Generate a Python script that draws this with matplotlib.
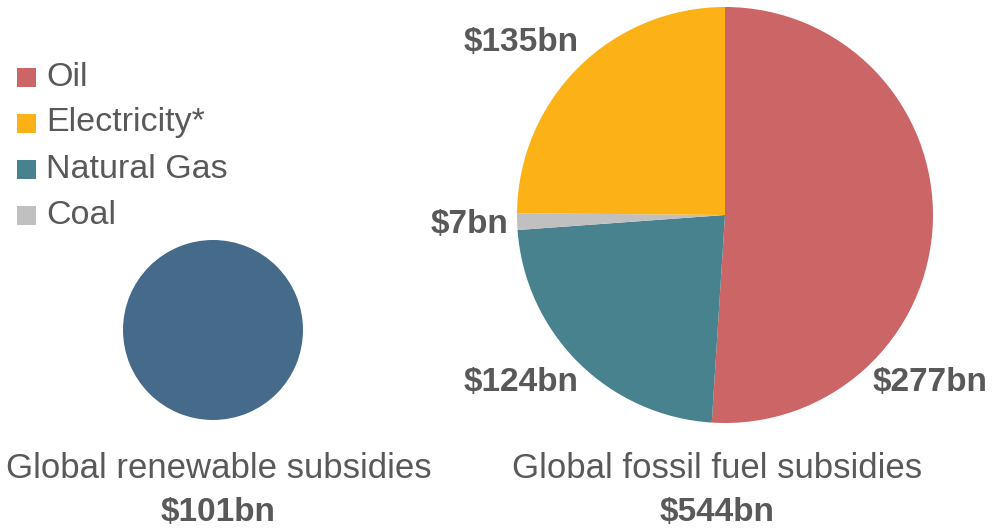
import matplotlib.pyplot as plt
from matplotlib.patches import Rectangle

plt.rcParams['font.family'] = ['Liberation Sans', 'DejaVu Sans']

# fossil fuel subsidies, $bn (pie order, clockwise from top)
fossil_names = ['Oil', 'Natural Gas', 'Coal', 'Electricity*']
fossil_values = [277, 124, 7, 135]
fossil_colors = ['#cc6666', '#48828e', '#c0c0c0', '#fcb217']
fossil_labels = ['$277bn', '$124bn', '$7bn', '$135bn']

legend_names = ['Oil', 'Electricity*', 'Natural Gas', 'Coal']
legend_colors = ['#cc6666', '#fcb217', '#48828e', '#c0c0c0']

renewable_values = [101]
renewable_color = '#466a8a'

fossil_total = 544
renewable_total = 101

text_color = '#595959'
W, H = 997, 530


def Y(y):
    # pixel row (from top) to data y
    return H - y


fig = plt.figure(figsize=(W / 100, H / 100), dpi=100)
ax = fig.add_axes([0, 0, 1, 1])

ax.pie(fossil_values, colors=fossil_colors, startangle=90, counterclock=False,
       center=(725, Y(215)), radius=208,
       wedgeprops=dict(linewidth=0))
ax.pie(renewable_values, colors=[renewable_color], startangle=90,
       center=(213, Y(330)), radius=90,
       wedgeprops=dict(linewidth=0))

ax.set_xlim(0, W)
ax.set_ylim(0, H)
ax.set_aspect('equal')
ax.axis('off')

# slice labels
label_pos = [(930, 383, 'center'), (521, 383, 'center'),
             (508, 225, 'right'), (521, 42, 'center')]
for lab, (x, y, ha) in zip(fossil_labels, label_pos):
    ax.text(x, Y(y), lab, ha=ha, va='center', fontsize=24,
            fontweight='bold', color=text_color)

# legend
for i, (name, col) in enumerate(zip(legend_names, legend_colors)):
    yc = 77 + 46 * i
    ax.add_patch(Rectangle((17, Y(yc + 10)), 19, 19, facecolor=col,
                           edgecolor='none'))
    ax.text(46, Y(yc), name, ha='left', va='center', fontsize=24.5,
            color=text_color)

# captions
ax.text(219, Y(469), 'Global renewable subsidies', ha='center', va='center',
        fontsize=25, color=text_color)
ax.text(218, Y(512), f'${renewable_total}bn', ha='center', va='center',
        fontsize=24, fontweight='bold', color=text_color)
ax.text(717, Y(469), 'Global fossil fuel subsidies', ha='center', va='center',
        fontsize=25, color=text_color)
ax.text(717, Y(512), f'${fossil_total}bn', ha='center', va='center',
        fontsize=24, fontweight='bold', color=text_color)

fig.savefig('out.png', dpi=100, facecolor='white')
